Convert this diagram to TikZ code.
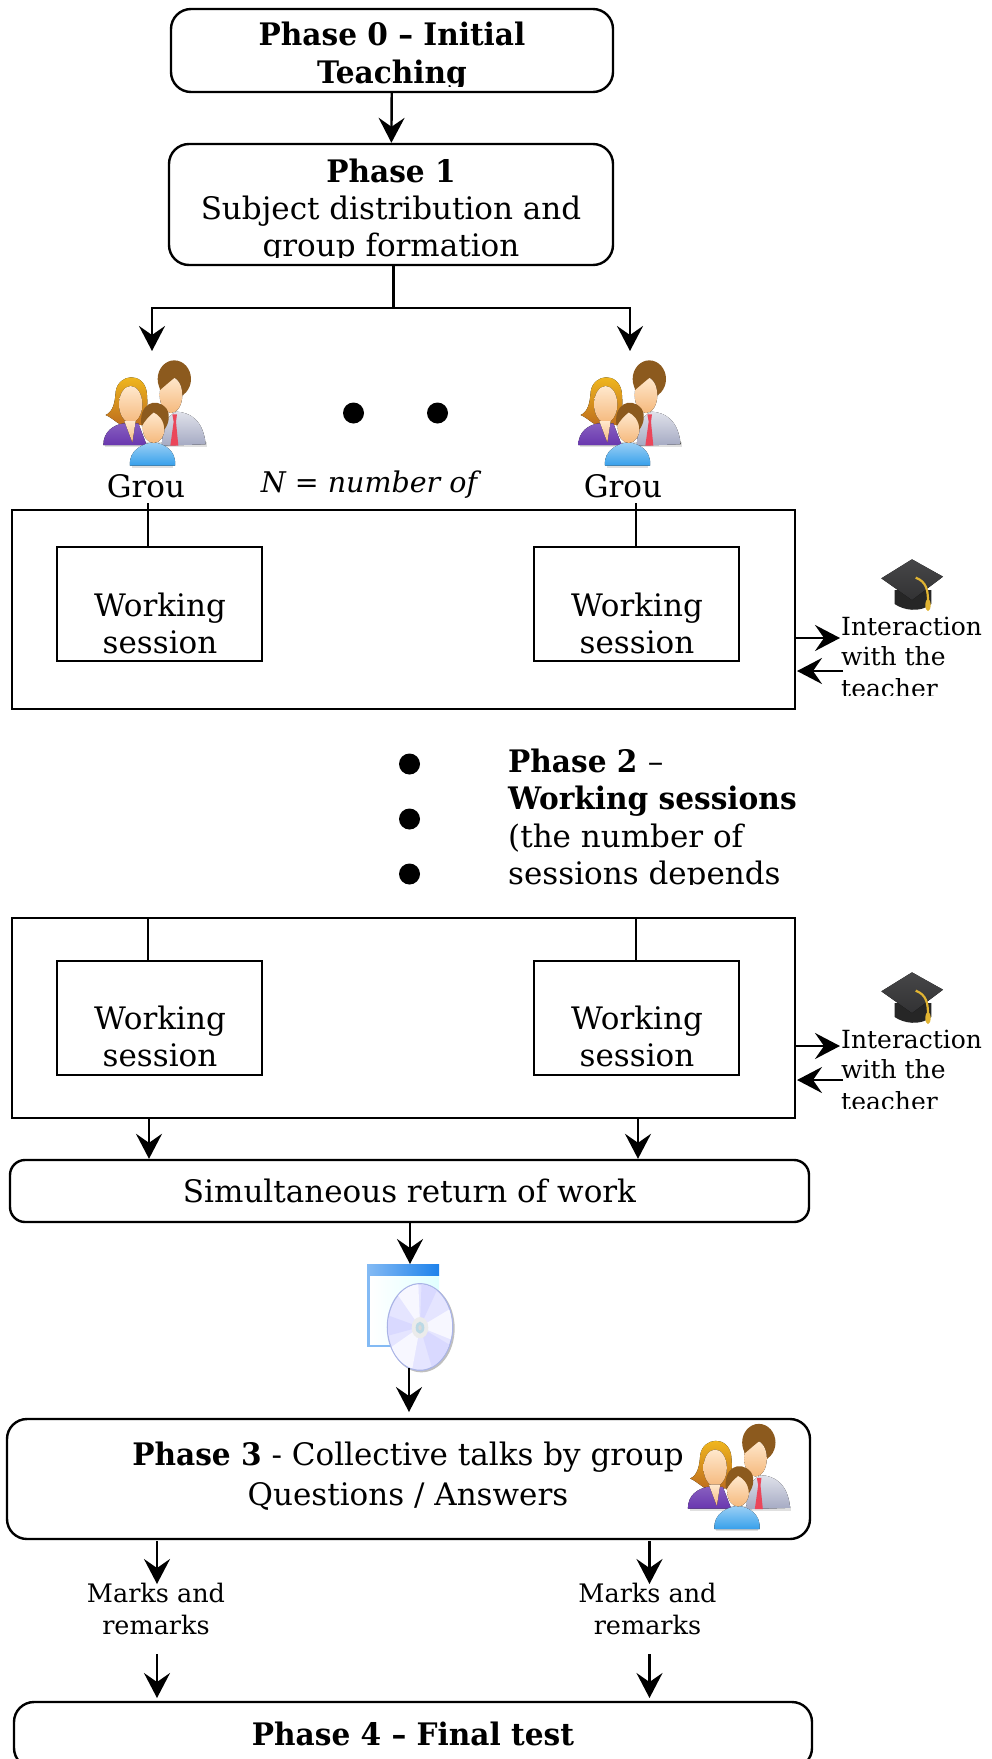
\documentclass[tikz,border=0pt]{standalone}
\usepackage{fontspec}
\setmainfont{DejaVu Serif}[BoldFeatures={FakeStretch=0.955}]
\usetikzlibrary{arrows.meta}
\definecolor{skinLight}{RGB}{255, 232, 205}
\definecolor{skinDark}{RGB}{245, 185, 125}
\definecolor{hairBrown}{RGB}{140, 90, 30}
\definecolor{hairGold}{RGB}{245, 190, 30}
\definecolor{hairOrange}{RGB}{190, 110, 30}
\definecolor{suitGrey}{RGB}{165, 170, 195}
\definecolor{tieRed}{RGB}{235, 70, 90}
\definecolor{dressPurple}{RGB}{105, 55, 175}
\definecolor{shirtBlue}{RGB}{55, 160, 235}
\definecolor{capGrey}{RGB}{50, 50, 52}
\definecolor{tasselGold}{RGB}{225, 180, 50}
\definecolor{windowBlue}{RGB}{30, 130, 235}
\definecolor{discEdge}{RGB}{170, 180, 230}
\tikzset{
  line/.style={line width=2.4pt},
  arrowline/.style={line, -{Stealth[length=25pt,width=26pt,inset=9pt]}},
  plainbox/.style={draw, line width=2.4pt, minimum width=#1},
  phasebox/.style={draw, line width=2.4pt, rounded corners=20pt, align=center},
  bodytext/.style={font=\fontsize{31}{37}\selectfont, inner sep=0pt, align=center},
  smalltext/.style={font=\fontsize{25}{30}\selectfont, inner sep=0pt, align=left},
  markstext/.style={font=\fontsize{25.5}{31}\selectfont, inner sep=0pt, align=center},
  bulletdot/.style={circle, fill=black, minimum size=21pt, inner sep=0pt},
  pics/people/.style={code={
    \begin{scope}[x=0.3333pt,y=-0.3333pt,shift={(-177,-177)}]
      \fill[black!12] (30,262) rectangle (335,276);
      \fill[black!12] (110,320) rectangle (235,338);
      \fill[top color=suitGrey!35, bottom color=suitGrey] (200,272) -- (205,215) .. controls (215,190) and (230,175) .. (245,170) .. controls (285,172) and (325,195) .. (332,268) -- cycle;
      \fill[tieRed] (232,178) -- (246,178) -- (243,200) -- (250,272) -- (226,272) -- (236,200) -- cycle;
      \fill[hairBrown] (238,72) ellipse (50 and 56);
      \fill[top color=skinLight, bottom color=skinDark] (228,120) ellipse (34 and 54);
      \fill[hairBrown] (195,105) .. controls (215,88) and (235,70) .. (250,60) .. controls (262,78) and (262,100) .. (264,122) -- (285,60) -- (230,20) -- (190,70) -- cycle;
      \fill[top color=hairGold, bottom color=hairOrange] (75,208) .. controls (55,195) and (45,185) .. (32,180) .. controls (55,170) and (60,140) .. (62,110) .. controls (70,55) and (145,50) .. (155,110) .. controls (160,150) and (155,180) .. (145,210) -- cycle;
      \fill[top color=dressPurple!80, bottom color=dressPurple] (25,270) .. controls (25,230) and (55,210) .. (85,205) -- (130,205) -- (155,270) -- cycle;
      \fill[top color=skinLight, bottom color=skinDark] (107,148) ellipse (35 and 55);
      \fill[top color=skinLight, bottom color=skinDark] (122,198) -- (88,198) -- (112,262) -- cycle;
      \fill[top color=shirtBlue!50, bottom color=shirtBlue] (105,332) .. controls (100,285) and (145,265) .. (175,262) .. controls (205,265) and (245,285) .. (240,332) -- cycle;
      \fill[top color=skinLight, bottom color=skinDark] (176,218) ellipse (33 and 46);
      \fill[hairBrown] (140,214) .. controls (128,150) and (180,122) .. (214,160) .. controls (227,180) and (222,205) .. (208,224) .. controls (207,195) and (192,180) .. (176,172) .. controls (160,185) and (150,197) .. (140,214) -- cycle;
    \end{scope}
  }},
  pics/gradcap/.style={code={
    \begin{scope}[x=0.3333pt,y=-0.3333pt,shift={(-637,-165)}]
      \fill[black!85] (585,180) -- (585,222) .. controls (610,240) and (660,250) .. (695,222) -- (695,180) -- cycle;
      \fill[top color=capGrey!90, bottom color=capGrey] (545,145) -- (637,88) -- (730,140) -- (637,210) -- cycle;
      \draw[tasselGold, line width=2.2pt] (648,143) .. controls (680,155) and (685,180) .. (685,215);
      \fill[tasselGold] (685,225) ellipse (8 and 18);
    \end{scope}
  }},
  pics/discwindow/.style={code={
    \begin{scope}[x=0.3333pt,y=-0.3333pt,shift={(-210,-230)}]
      \fill[windowBlue!55] (82,72) rectangle (297,320);
      \shade[left color=white, right color=cyan!12] (90,105) rectangle (297,312);
      \shade[left color=windowBlue!55, right color=windowBlue] (82,72) rectangle (297,105);
      \fill[black!25] (244,264) ellipse (100 and 132);
      \fill[blue!10, draw=discEdge, line width=1.2pt] (240,260) ellipse (98 and 130);
      \begin{scope}
        \clip (240,260) ellipse (96 and 128);
        \fill[blue!3] (240,260) -- (150,130) -- (235,130) -- cycle;
        \fill[blue!3] (240,260) -- (340,200) -- (340,300) -- cycle;
        \fill[blue!3] (240,260) -- (140,330) -- (215,395) -- cycle;
        \fill[blue!15] (240,260) -- (245,120) -- (300,130) -- cycle;
        \fill[blue!15] (240,260) -- (340,320) -- (280,395) -- cycle;
        \fill[blue!15] (240,260) -- (130,220) -- (130,290) -- cycle;
      \end{scope}
      \fill[black!8] (240,262) ellipse (25 and 32);
      \fill[black!35!cyan!30] (240,262) ellipse (13 and 18);
      \fill[black!15] (240,262) ellipse (5 and 8);
    \end{scope}
  }}
}
\begin{document}
\begin{tikzpicture}[x=1pt,y=-1pt]
  \useasboundingbox (0,0) rectangle (991,1759);
  \clip (0,0) rectangle (991,1759);

  \node[phasebox, minimum width=442pt, minimum height=83pt] (phase0) at (392,50.5) {};
  \node[phasebox, minimum width=444pt, minimum height=121pt] (phase1) at (391,204.5) {};
  \begin{scope}
    \clip (171,11) rectangle (613,86);
    \node[bodytext, anchor=base] (phase0line1) at (392,45) {\bfseries Phase 0 – Initial};
    \node[bodytext, anchor=base] (phase0line2) at (392,83) {\bfseries Teaching};
  \end{scope}
  \begin{scope}
    \clip (171,146) rectangle (613,257);
    \node[bodytext, anchor=base] (phase1line1) at (391,182) {\bfseries Phase 1};
    \node[bodytext, anchor=base] (phase1line2) at (391,219) {Subject distribution and};
    \node[bodytext, anchor=base] (phase1line3) at (391,256) {group formation};
  \end{scope}
  \draw[arrowline] (phase0) -- (phase1);

  \coordinate (splitstart) at (393.5,265);
  \coordinate (splitmid) at (393.5,308);
  \coordinate (splitleft) at (152,308);
  \coordinate (splitright) at (630,308);
  \coordinate (groupAtop) at (152,351);
  \coordinate (groupBtop) at (630,351);
  \draw[line] (splitstart) -- (splitmid);
  \draw[arrowline] (splitmid) -- (splitleft) -- (groupAtop);
  \draw[arrowline] (splitmid) -- (splitright) -- (groupBtop);

  \pic (peopleA) at (154,414) {people};
  \pic (peopleB) at (629,414) {people};
  \node[bulletdot] (dotA) at (353.5,413) {};
  \node[bulletdot] (dotB) at (437.5,413) {};
  \node[bodytext, anchor=base] (groupA) at (146,497) {Grou};
  \node[bodytext, anchor=base] (groupB) at (623,497) {Grou};
  \begin{scope}
    \clip (250,460) rectangle (490,497);
    \node[bodytext, anchor=base, font=\fontsize{28.5}{34}\selectfont\itshape] (numgroups) at (369,492) {N = number of};
  \end{scope}

  \node[plainbox=783pt, minimum height=199pt] (sessionsA) at (403.5,609.5) {};
  \node[plainbox=205pt, minimum height=114pt] (workA) at (159.5,604) {};
  \node[plainbox=205pt, minimum height=114pt] (workB) at (636.5,604) {};
  \node[bodytext, anchor=base] (workAline1) at (160,616) {Working};
  \node[bodytext, anchor=base] (workAline2) at (160,653) {session};
  \node[bodytext, anchor=base] (workBline1) at (637,616) {Working};
  \node[bodytext, anchor=base] (workBline2) at (637,653) {session};
  \coordinate (groupAfoot) at (148,503);
  \coordinate (groupBfoot) at (636,503);
  \draw[line] (groupAfoot) -- (groupAfoot |- workA.north);
  \draw[line] (groupBfoot) -- (groupBfoot |- workB.north);

  \pic (capA) at (912,585) {gradcap};
  \begin{scope}
    \clip (835,600) rectangle (991,695);
    \node[smalltext, anchor=base west] (talkAline1) at (841,635) {Interaction};
    \node[smalltext, anchor=base west] (talkAline2) at (841,665) {with the};
    \node[smalltext, anchor=base west] (talkAline3) at (841,697) {teacher};
  \end{scope}
  \coordinate (talkAout) at (795,638);
  \coordinate (talkAoutend) at (840,638);
  \coordinate (talkAin) at (843,671);
  \coordinate (talkAinend) at (797,671);
  \draw[arrowline] (talkAout) -- (talkAoutend);
  \draw[arrowline] (talkAin) -- (talkAinend);

  \node[bulletdot] (dotC) at (409.5,764) {};
  \node[bulletdot] (dotD) at (409.5,819) {};
  \node[bulletdot] (dotE) at (409.5,874) {};
  \begin{scope}
    \clip (500,740) rectangle (810,884);
    \node[bodytext, anchor=base west] (phase2line1) at (508,772) {\bfseries Phase 2 \mdseries –};
    \node[bodytext, anchor=base west] (phase2line2) at (508,809) {\bfseries Working sessions};
    \node[bodytext, anchor=base west] (phase2line3) at (508,847) {(the number of};
    \node[bodytext, anchor=base west] (phase2line4) at (508,884) {sessions depends};
  \end{scope}

  \node[plainbox=783pt, minimum height=200pt] (sessionsB) at (403.5,1018) {};
  \node[plainbox=205pt, minimum height=114pt] (workC) at (159.5,1018) {};
  \node[plainbox=205pt, minimum height=114pt] (workD) at (636.5,1018) {};
  \node[bodytext, anchor=base] (workCline1) at (160,1029) {Working};
  \node[bodytext, anchor=base] (workCline2) at (160,1066) {session};
  \node[bodytext, anchor=base] (workDline1) at (637,1029) {Working};
  \node[bodytext, anchor=base] (workDline2) at (637,1066) {session};
  \coordinate (sessionsBtopA) at (148,918);
  \coordinate (sessionsBtopB) at (636,918);
  \draw[line] (sessionsBtopA) -- (sessionsBtopA |- workC.north);
  \draw[line] (sessionsBtopB) -- (sessionsBtopB |- workD.north);

  \pic (capB) at (912,998) {gradcap};
  \begin{scope}
    \clip (835,1013) rectangle (991,1108);
    \node[smalltext, anchor=base west] (talkBline1) at (841,1048) {Interaction};
    \node[smalltext, anchor=base west] (talkBline2) at (841,1078) {with the};
    \node[smalltext, anchor=base west] (talkBline3) at (841,1110) {teacher};
  \end{scope}
  \coordinate (talkBout) at (795,1046);
  \coordinate (talkBoutend) at (840,1046);
  \coordinate (talkBin) at (843,1080);
  \coordinate (talkBinend) at (797,1080);
  \draw[arrowline] (talkBout) -- (talkBoutend);
  \draw[arrowline] (talkBin) -- (talkBinend);

  \node[phasebox, rounded corners=15pt, minimum width=799pt, minimum height=62pt, font=\fontsize{31}{37}\selectfont] (return) at (409.5,1191) {Simultaneous return of work};
  \coordinate (sessionsBfootA) at (149,1118);
  \coordinate (sessionsBfootB) at (638,1118);
  \draw[arrowline] (sessionsBfootA) -- (sessionsBfootA |- return.north);
  \draw[arrowline] (sessionsBfootB) -- (sessionsBfootB |- return.north);

  \coordinate (discin) at (410,1223);
  \coordinate (disctop) at (410,1264);
  \coordinate (discout) at (409,1368);
  \pic (disc) at (410,1317) {discwindow};
  \draw[arrowline] (discin) -- (disctop);

  \node[phasebox, minimum width=803pt, minimum height=120pt] (phase3) at (408.5,1479) {};
  \node[bodytext, anchor=base] (phase3line1) at (408,1465) {{\bfseries Phase 3} - Collective talks by group};
  \node[bodytext, anchor=base] (phase3line2) at (408,1505) {Questions / Answers};
  \coordinate (phase3in) at (409,1412);
  \draw[arrowline] (discout) -- (phase3in);
  \pic (peopleC) at (738.5,1477.5) {people};

  \coordinate (marksAtop) at (157,1541);
  \coordinate (marksAtip) at (157,1584);
  \coordinate (marksBtop) at (649.5,1541);
  \coordinate (marksBtip) at (649.5,1584);
  \coordinate (marksAfoot) at (157,1654);
  \coordinate (marksAend) at (157,1698);
  \coordinate (marksBfoot) at (649.5,1654);
  \coordinate (marksBend) at (649.5,1698);
  \draw[arrowline] (marksAtop) -- (marksAtip);
  \draw[arrowline] (marksBtop) -- (marksBtip);
  \draw[arrowline] (marksAfoot) -- (marksAend);
  \draw[arrowline] (marksBfoot) -- (marksBend);
  \node[markstext, anchor=base] (marksAline1) at (156,1602) {Marks and};
  \node[markstext, anchor=base] (marksAline2) at (156,1634) {remarks};
  \node[markstext, anchor=base] (marksBline1) at (647.5,1602) {Marks and};
  \node[markstext, anchor=base] (marksBline2) at (647.5,1634) {remarks};

  \node[phasebox, minimum width=798pt, minimum height=66pt] (phase4) at (413,1735) {};
  \node[bodytext, anchor=base] (phase4text) at (413,1745) {\bfseries Phase 4 – Final test};
\end{tikzpicture}
\end{document}
